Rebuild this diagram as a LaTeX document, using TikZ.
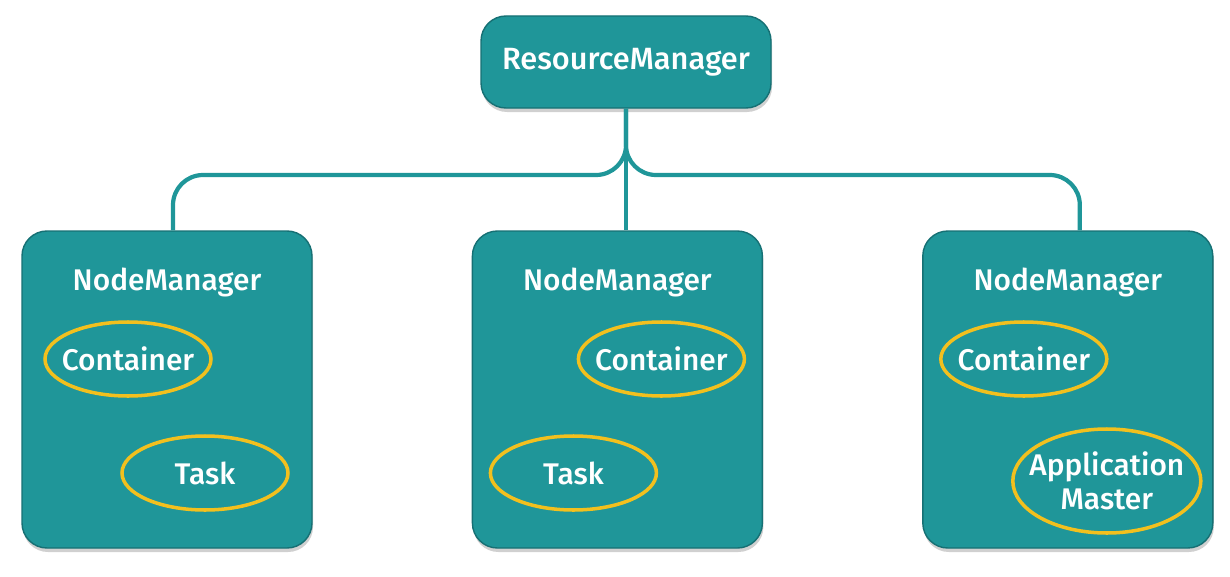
\documentclass[tikz,border=0pt]{standalone}
\usepackage{fontspec}
\setmainfont{Fira Sans}[UprightFont={* Medium}]
\usetikzlibrary{shapes.geometric, positioning, calc, shadows}
\definecolor{yarnTeal}{RGB}{31,150,153}
\definecolor{yarnEdge}{RGB}{22,112,116}
\definecolor{yarnGold}{RGB}{242,192,30}
\definecolor{yarnShade}{RGB}{150,150,150}

\begin{document}
\begin{tikzpicture}[
    manager/.style={rounded corners=0.5cm, draw=yarnEdge, thick, fill=yarnTeal, text=white,
    drop shadow={shadow xshift=0.02cm, shadow yshift=-0.08cm, fill=yarnShade, opacity=0.45},
    minimum width=5.8cm, font=\fontsize{17.5}{21}\selectfont},
    worker/.style={manager, minimum height=6.34cm},
    slot/.style={ellipse, draw=yarnGold, line width=2pt, inner sep=0pt,
    minimum width=3.32cm, minimum height=1.48cm},
    slotlabel/.style={text=white, align=center, font=\fontsize{17}{18.5}\selectfont},
    link/.style={draw=yarnTeal, line width=2.4pt}
  ]
  \useasboundingbox (0,0) rectangle (24.6,-11.52);

  \node[manager, minimum height=1.84cm] (rm) at (12.52,-1.24) {ResourceManager};
  \node[worker] (nm1) at (3.34,-7.79) {};
  \node[worker, right=3.18cm of nm1] (nm2) {};
  \node[worker, right=3.18cm of nm2] (nm3) {};

  % titles inside the boxes
  \node[text=white, font=\fontsize{17}{21}\selectfont, below=0.62cm of nm1.north] (t1) {NodeManager};
  \node[text=white, font=\fontsize{17}{21}\selectfont, below=0.62cm of nm2.north] (t2) {NodeManager};
  \node[text=white, font=\fontsize{17}{21}\selectfont, below=0.62cm of nm3.north] (t3) {NodeManager};

  % containers, the text sits on the ellipse centre
  \node[slot, label={[slotlabel]center:Container}] (c1) at ($(nm1)+(-0.78,0.61)$) {};
  \node[slot, label={[slotlabel]center:Task}] (k1) at ($(nm1)+(0.76,-1.67)$) {};
  \node[slot, label={[slotlabel]center:Container}] (c2) at ($(nm2)+(0.88,0.61)$) {};
  \node[slot, label={[slotlabel]center:Task}] (k2) at ($(nm2)+(-0.88,-1.67)$) {};
  \node[slot, label={[slotlabel]center:Container}] (c3) at ($(nm3)+(-0.88,0.61)$) {};
  \node[slot, minimum width=3.76cm, minimum height=2.08cm,
    label={[slotlabel]center:Application\\[1pt]Master}] (am) at ($(nm3)+(0.78,-1.83)$) {};

  % tree from the resource manager
  \coordinate (bus) at (0,-3.5);
  \coordinate (d1) at ([xshift=0.12cm]nm1.north);
  \coordinate (d3) at ([xshift=0.24cm]nm3.north);
  \draw[link, rounded corners=0.6cm] (rm.south) |- (d1 |- bus) -- (d1);
  \draw[link, rounded corners=0.6cm] (rm.south) |- (d3 |- bus) -- (d3);
  \draw[link] (rm.south) -- (rm.south |- nm2.north);
\end{tikzpicture}
\end{document}
